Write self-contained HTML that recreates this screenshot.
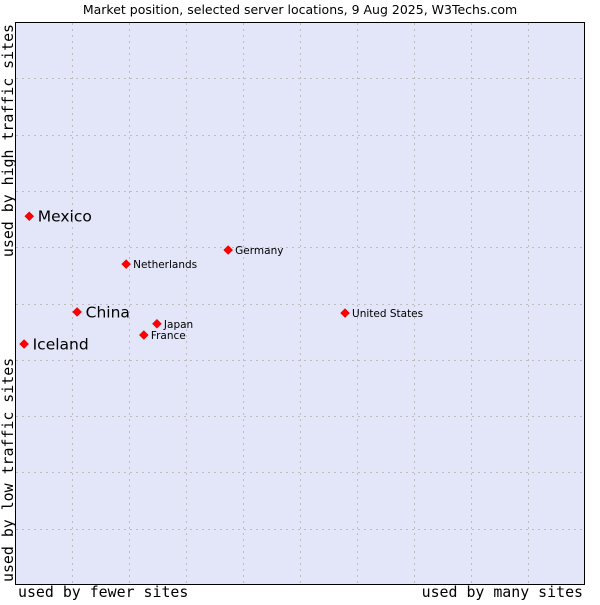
<!DOCTYPE html>
<html><head><meta charset="utf-8"><style>
body{margin:0;background:#fff;}
svg text{font-family:"DejaVu Sans","Liberation Sans",sans-serif;}
.mono{font-family:"DejaVu Sans Mono","Liberation Mono",monospace !important;font-size:14.9px;}
</style></head><body>
<svg id="chart" width="600" height="600" xmlns="http://www.w3.org/2000/svg">
<text x="300" y="14" text-anchor="middle" font-size="12.5">Market position, selected server locations, 9 Aug 2025, W3Techs.com</text>
<rect x="15.5" y="22.5" width="569" height="562" fill="#e3e5f8" stroke="#000" stroke-width="1"/>
<g id="grid"></g>
<g id="marks"></g>
<text class="mono" x="18" y="597">used by fewer sites</text>
<text class="mono" x="583" y="597" text-anchor="end">used by many sites</text>
<text class="mono" transform="translate(13,24) rotate(-90)" text-anchor="end">used by high traffic sites</text>
<text class="mono" transform="translate(13,582) rotate(-90)">used by low traffic sites</text>
</svg>
<script>
const countries=["Mexico","China","Iceland","Netherlands","Germany","Japan","France","United States"];
const xValues=[2.5,10.9,1.6,19.5,37.4,24.9,22.6,57.9];
const yValues=[65.5,48.5,42.8,57.0,59.5,46.4,44.4,48.3];
const bigLabel=[true,true,true,false,false,false,false,false];
const NS="http://www.w3.org/2000/svg";
const L=15,R=585,T=22,B=585;
const sx=v=>L+v/100*(R-L);
const sy=v=>B-v/100*(B-T);
const grid=document.getElementById('grid');
for(let i=1;i<10;i++){
  const x=Math.round(L+i*(R-L)/10)+0.5;
  const l=document.createElementNS(NS,'line');
  
  
  l.setAttribute('x1',x);l.setAttribute('x2',x);l.setAttribute('y1',T+1);l.setAttribute('y2',B);
  l.setAttribute('stroke','#bdbdbd');l.setAttribute('stroke-dasharray','2,4');
  grid.appendChild(l);
  const y=Math.round(T+i*(B-T)/10)+0.5;
  const h=document.createElementNS(NS,'line');
  
  
  h.setAttribute('y1',y);h.setAttribute('y2',y);h.setAttribute('x1',L+1);h.setAttribute('x2',R);
  h.setAttribute('stroke','#bdbdbd');h.setAttribute('stroke-dasharray','2,4');
  grid.appendChild(h);
}
const marks=document.getElementById('marks');
countries.forEach((c,i)=>{
  const x=sx(xValues[i]),y=sy(yValues[i]);
  const p=document.createElementNS(NS,'polygon');
  
  
  p.setAttribute('points',`${x},${y-4.5} ${x+4.5},${y} ${x},${y+4.5} ${x-4.5},${y}`);
  p.setAttribute('fill','#f00');p.setAttribute('stroke','#c00');p.setAttribute('stroke-width','0.5');
  marks.appendChild(p);
  const t=document.createElementNS(NS,'text');
  
  
  const big=bigLabel[i];
  t.setAttribute('x',x+(big?8.5:7));t.setAttribute('y',y+(big?5.5:4));
  t.setAttribute('font-size',big?'15.5':'10.5');
  t.textContent=c;
  marks.appendChild(t);
});
</script>
</body></html>
